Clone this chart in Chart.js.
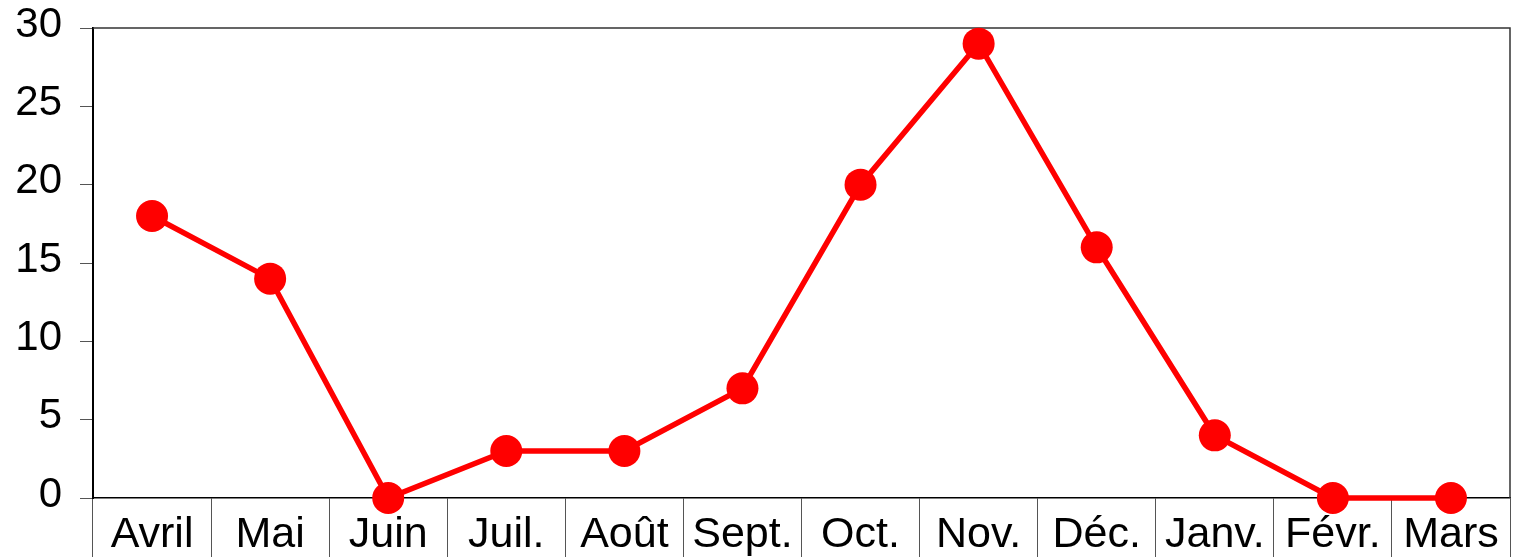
<!DOCTYPE html>
<html><head><meta charset="utf-8">
<script src="https://cdn.jsdelivr.net/npm/chart.js@4"></script>
<style>html,body{margin:0;padding:0;background:#fff}#wrap{width:1514px;height:557px}</style>
</head><body><div id="wrap"><canvas id="c" width="1514" height="557"></canvas></div>
<script>
const categories = ['Avril','Mai','Juin','Juil.','Août','Sept.','Oct.','Nov.','Déc.','Janv.','Févr.','Mars'];
const values = [18, 14, 0, 3, 3, 7, 20, 29, 16, 4, 0, 0];
const yMin = 0, yMax = 30, yStep = 5;

try {
  const LC = Chart.registry.getController('line');
  LC.prototype.getMaxOverflow = function () { return 0; };
} catch (e) {}

const framePlugin = {
  id: 'frame',
  beforeDatasetsDraw(chart) {
    const a = chart.chartArea, ctx = chart.ctx;
    ctx.save();
    ctx.strokeStyle = '#333';
    ctx.lineWidth = 1.5;
    ctx.beginPath();
    ctx.moveTo(a.left, a.top);
    ctx.lineTo(a.right, a.top);
    ctx.lineTo(a.right, a.bottom);
    ctx.stroke();
    ctx.restore();
  }
};

const fam = '"Liberation Sans", Arial, sans-serif';
function zeroPad(scale) {
  scale.paddingTop = 0; scale.paddingBottom = 0; scale.paddingLeft = 0; scale.paddingRight = 0;
}

new Chart(document.getElementById('c'), {
  type: 'line',
  data: {
    labels: categories,
    datasets: [{
      data: values,
      borderColor: '#ff0000',
      backgroundColor: '#ff0000',
      borderWidth: 5.5,
      pointRadius: 16,
      pointHoverRadius: 16,
      pointBackgroundColor: '#ff0000',
      pointBorderWidth: 0,
      tension: 0,
      clip: false
    }]
  },
  options: {
    responsive: false,
    animation: false,
    events: [],
    layout: {padding: {top: 28, right: 4, left: 0, bottom: 0}},
    plugins: {legend: {display: false}, tooltip: {enabled: false}},
    scales: {
      x: {
        offset: true,
        grid: {offset: true, drawOnChartArea: false, drawTicks: true, tickLength: 59, color: '#555', lineWidth: 1},
        border: {display: true, color: '#000', width: 1.5},
        ticks: {color: '#000', font: {family: fam, size: 43}, padding: -48, maxRotation: 0, autoSkip: false},
        afterFit(scale) { scale.height = 59; zeroPad(scale); }
      },
      y: {
        min: yMin, max: yMax,
        grid: {drawOnChartArea: false, drawTicks: true, tickLength: 13, color: '#555', lineWidth: 1},
        border: {display: true, color: '#000', width: 2},
        ticks: {stepSize: yStep, color: '#000', font: {family: fam, size: 42}, padding: 18, labelOffset: -3},
        afterFit(scale) { scale.width = 93; zeroPad(scale); }
      }
    }
  },
  plugins: [framePlugin]
});
</script></body></html>
